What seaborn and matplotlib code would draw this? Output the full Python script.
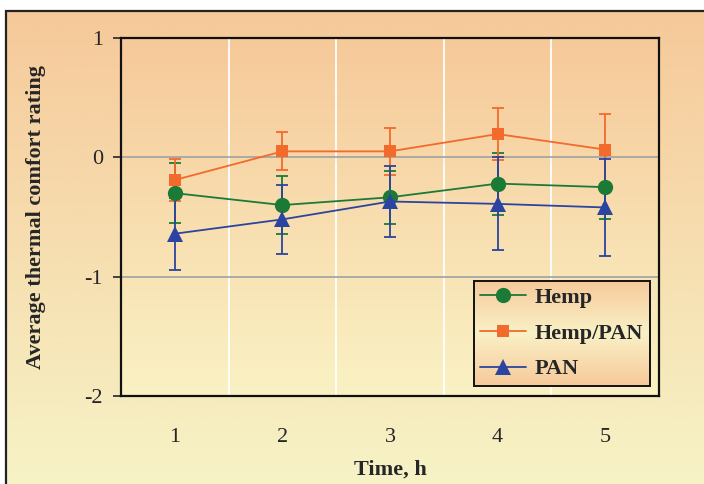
import matplotlib

matplotlib.use("Agg")

import matplotlib.pyplot as plt
import numpy as np
import pandas as pd
import seaborn as sns
from matplotlib.colors import LinearSegmentedColormap
from matplotlib.patches import Rectangle

# values
time_h = [1, 2, 3, 4, 5]
hemp = [-0.30, -0.40, -0.335, -0.22, -0.25]
hemp_err = [0.25, 0.24, 0.22, 0.26, 0.27]
hemp_pan = [-0.19, 0.05, 0.05, 0.195, 0.065]
hemp_pan_err = [0.18, 0.16, 0.20, 0.22, 0.30]
pan = [-0.64, -0.52, -0.37, -0.39, -0.42]
pan_err = [0.30, 0.29, 0.30, 0.39, 0.41]

series = ["Hemp", "Hemp/PAN", "PAN"]
colors = {"Hemp": "#1B7A36", "Hemp/PAN": "#F26A2C", "PAN": "#2B44A0"}
markers = {"Hemp": "o", "Hemp/PAN": "s", "PAN": "^"}
marker_sizes = {"Hemp": 11, "Hemp/PAN": 9, "PAN": 11.5}
y_ticks = [1, 0, -1, -2]

ORANGE = "#F6C99A"
PALE = "#F6F3C6"

df = pd.DataFrame(
    {
        "time": time_h * 3,
        "rating": hemp + hemp_pan + pan,
        "err": hemp_err + hemp_pan_err + pan_err,
        "fabric": [s for s in series for _ in time_h],
    }
)


def gradient(ax, extent, stops, transform, zorder):
    """Vertical colour gradient, stops listed bottom -> top."""
    cmap = LinearSegmentedColormap.from_list("grad", stops)
    grad = np.linspace(0, 1, 256).reshape(-1, 1)
    ax.imshow(grad, cmap=cmap, origin="lower", extent=extent, aspect="auto",
              transform=transform, zorder=zorder, interpolation="bilinear")


sns.set_style("white")
plt.rcParams["font.family"] = ["Liberation Serif", "DejaVu Serif"]
plt.rcParams["axes.unicode_minus"] = False

fig = plt.figure(figsize=(7.04, 4.84), dpi=100, facecolor="white")

# page background with frame
bg = fig.add_axes([0, 0, 1, 1], zorder=-1)
bg.axis("off")
gradient(bg, (6 / 704, 1, 0, 1 - 11 / 484), [PALE, ORANGE], bg.transData, 0)
bg.add_patch(Rectangle((6 / 704, -0.1), 1.2, 1.1 - 11 / 484, fill=False,
                       edgecolor="#222222", linewidth=1.6, zorder=2))
bg.set_xlim(0, 1)
bg.set_ylim(0, 1)

ax = fig.add_axes([121 / 704, 88 / 484, 538 / 704, 358 / 484])
ax.set_facecolor("none")
gradient(ax, (0, 1, 0, 1), ["#FAF2C4", ORANGE], ax.transAxes, 0)

# category boundaries and reference lines
for xb in [1.5, 2.5, 3.5, 4.5]:
    ax.axvline(xb, color="white", linewidth=1.3, zorder=1)
ax.axhline(-1, color="#A6A6A6", linewidth=1.3, zorder=1)
ax.axhline(0, color="#A6A6A6", linewidth=1.3, zorder=1)
sec = ax.secondary_xaxis(2 / 3)
sec.set_xticks([0.5, 1.5, 2.5, 3.5, 4.5, 5.5])
sec.tick_params(axis="x", direction="out", length=5, width=1.3,
                color="#A6A6A6", labelbottom=False, labeltop=False,
                bottom=True, top=False)
sec.spines["bottom"].set_visible(False)
sec.spines["top"].set_visible(False)

for name in series:
    sub = df[df["fabric"] == name]
    ax.errorbar(sub["time"], sub["rating"], yerr=sub["err"], fmt="none",
                ecolor=colors[name], elinewidth=1.3, capsize=4.5, capthick=1.3,
                zorder=3)

for name in series:
    sub = df[df["fabric"] == name]
    sns.lineplot(data=sub, x="time", y="rating", color=colors[name],
                 marker=markers[name], markersize=marker_sizes[name],
                 markeredgewidth=0, linewidth=1.3, ax=ax, label=name,
                 legend=False, zorder=4)

ax.set_xlim(0.5, 5.5)
ax.set_ylim(-2, 1)
ax.set_xticks(time_h)
ax.set_yticks(y_ticks)
ax.tick_params(axis="x", length=0, pad=23, labelsize=16)
ax.tick_params(axis="y", direction="out", length=6, width=1.2, pad=7,
               labelsize=16, left=True)
for sp in ax.spines.values():
    sp.set_color("#111111")
    sp.set_linewidth(1.6)

ax.set_xlabel("Time, h", fontsize=16, fontweight="bold", labelpad=9)
ax.set_ylabel("Average thermal comfort rating", fontsize=16, fontweight="bold",
              labelpad=28)

handles = [h for h in ax.get_lines() if h.get_label() in series]
leg = ax.legend(handles=handles, labels=series, loc="lower right",
                bbox_to_anchor=(0.983, 0.028),
                prop={"family": "Liberation Serif", "weight": "bold", "size": 16},
                frameon=True, fancybox=False, edgecolor="#111111",
                facecolor="none", framealpha=1, handlelength=2.05,
                labelspacing=0.68, borderpad=0.3, handletextpad=0.4,
                borderaxespad=0)
leg.get_frame().set_linewidth(1.4)
leg.set_zorder(6)

fig.canvas.draw()
lb = leg.get_frame().get_window_extent().transformed(ax.transAxes.inverted())
gradient(ax, (lb.x0, lb.x1, lb.y0, lb.y1), [ORANGE, "#F9F1C6", ORANGE],
         ax.transAxes, 5)
ax.set_xlim(0.5, 5.5)
ax.set_ylim(-2, 1)

fig.savefig("out.png", dpi=100, facecolor="white")
plt.close(fig)
